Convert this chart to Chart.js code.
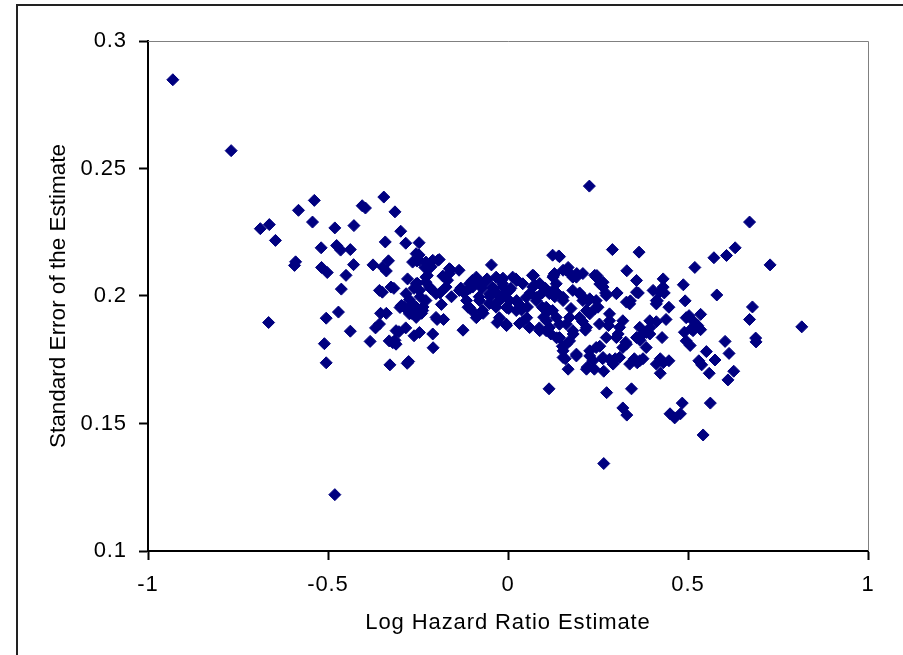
<!DOCTYPE html>
<html><head><meta charset="utf-8">
<script src="https://cdn.jsdelivr.net/npm/chart.js@4/dist/chart.umd.min.js"></script>
<style>html,body{margin:0;padding:0;background:#fff;} canvas{display:block;}</style>
</head><body>
<canvas id="c" width="903" height="655"></canvas>
<script>
const xValues = [
-0.931,-0.769,-0.688,-0.663,-0.646,-0.665,-0.593,-0.590,-0.582,-0.538,
-0.543,-0.519,-0.518,-0.502,-0.510,-0.505,-0.505,-0.481,-0.476,-0.465,
-0.463,-0.471,-0.450,-0.438,-0.429,-0.428,-0.438,-0.481,-0.405,-0.396,
-0.375,-0.368,-0.383,-0.345,-0.341,-0.332,-0.338,-0.349,-0.354,-0.338,
-0.314,-0.317,-0.328,-0.320,-0.314,-0.300,-0.296,-0.298,-0.303,-0.284,
-0.284,-0.279,-0.274,-0.276,-0.280,-0.261,-0.268,-0.261,-0.253,-0.247,
-0.247,-0.252,-0.244,-0.240,-0.236,-0.231,-0.224,-0.215,-0.208,-0.197,
-0.179,-0.191,-0.189,-0.181,-0.168,-0.160,-0.185,-0.157,-0.136,-0.125,
-0.131,-0.122,-0.111,-0.098,-0.106,-0.093,-0.085,-0.080,-0.072,-0.069,
-0.058,-0.046,-0.050,-0.040,-0.030,-0.037,-0.024,-0.014,-0.010,-0.005,
0.002,0.008,0.022,0.026,0.037,0.042,0.054,0.062,0.071,0.074,
0.079,0.087,0.095,0.099,0.104,0.111,0.114,0.119,0.127,0.130,
0.136,0.143,0.143,0.151,0.159,0.167,0.167,0.178,0.175,0.181,
0.191,0.199,0.207,0.207,0.215,0.223,0.226,0.220,0.240,0.247,
0.255,0.242,0.255,0.263,0.266,0.266,0.274,0.271,0.279,0.290,
0.298,0.303,0.306,0.319,0.330,0.330,0.327,0.343,0.340,0.351,
0.359,0.364,0.362,0.367,0.375,0.394,0.412,0.415,0.423,0.431,
0.423,0.431,0.434,0.428,0.439,0.447,0.447,0.450,0.463,0.479,
0.484,0.487,0.492,0.495,0.503,0.490,0.506,0.519,0.527,0.535,
0.530,0.538,0.535,0.542,0.551,0.559,0.562,0.575,0.572,0.580,
0.607,0.603,0.614,0.611,0.627,0.631,0.671,0.671,0.679,0.688,
0.689,0.728,0.816,
-0.099,-0.079,-0.060,-0.043,-0.018,0.024,0.068,0.088,0.124,-0.135,
-0.115,-0.107,-0.088,-0.071,-0.052,-0.032,-0.015,0.004,-0.004,-0.024,
-0.004,0.024,0.040,0.052,0.032,0.060,0.079,0.096,0.107,0.088,
0.115,0.135,0.124,
0.141,0.129,0.162,0.190,0.241,0.264,0.097,0.125,0.153,0.180,
0.208,0.227,0.250,0.273,0.301,0.329,0.357,0.403,0.412,0.106,
0.134,0.162,0.106,0.143,0.180,0.199,0.227,0.218,0.254,0.282,
0.310,0.273,0.301,0.329,0.357,0.394,0.384,0.162,0.153,0.190,
0.227,0.236,0.264,0.292,0.338,0.366,0.319,
-0.228,-0.209,-0.228,-0.274,-0.255,-0.311,-0.311,0.357,0.421,0.509,
0.366,0.384,0.310,0.412,
0.218,0.153,0.171,0.190,0.227,0.245,0.282,0.495,0.514,-0.200,
-0.172,-0.098,-0.079,-0.051,-0.033,-0.015,0.004,0.023,0.051,0.069,
0.115,0.134,0.153,0.171,0.199,0.218,0.245,0.264,0.282,0.319,
0.338,0.375,0.394,0.412,0.431,0.514,
-0.348,-0.255,-0.246,-0.265,-0.195,-0.214,-0.163,-0.357,-0.325,-0.357,
-0.330,-0.255,-0.228,-0.163,-0.283,-0.246,-0.265,-0.218,-0.228,-0.288,
-0.274,-0.255,-0.237,-0.200,-0.209,-0.246,-0.107,-0.088,-0.061,-0.033,
-0.015,0.013,0.041,0.125,0.153,0.180,0.208,0.245
];
const yValues = [
0.2848,0.257,0.2264,0.228,0.2218,0.1896,0.212,0.2134,0.2336,0.2375,
0.229,0.2189,0.2112,0.2092,0.1813,0.1913,0.1738,0.2267,0.2198,0.218,
0.2027,0.1937,0.2081,0.2182,0.2123,0.2276,0.1862,0.1221,0.2354,0.2345,
0.2122,0.1875,0.1822,0.2388,0.2212,0.2138,0.2098,0.2015,0.1932,0.1932,
0.233,0.203,0.173,0.1817,0.1826,0.1955,0.1963,0.2254,0.186,0.2207,
0.1875,0.2067,0.1985,0.1743,0.1736,0.1844,0.1932,0.203,0.2137,0.2161,
0.2209,0.205,0.1997,0.1932,0.1957,0.2112,0.208,0.2029,0.1797,0.1908,
0.1908,0.2143,0.2012,0.2078,0.2062,0.2104,0.1967,0.1997,0.2101,0.1866,
0.2031,0.2012,0.1956,0.194,0.203,0.2047,0.2063,0.1997,0.203,0.1932,
0.2067,0.2122,0.1997,0.203,0.1896,0.1965,0.1981,0.207,0.2006,0.189,
0.1951,0.203,0.2067,0.1975,0.1946,0.19,0.1957,0.2012,0.208,0.2044,
0.1981,0.1875,0.2012,0.1917,0.203,0.194,0.1636,0.1851,0.208,0.1997,
0.2012,0.2154,0.1889,0.1803,0.1754,0.1713,0.2112,0.208,0.1951,0.1851,
0.2088,0.2012,0.1997,0.19,0.1866,0.1981,0.2431,0.1721,0.1713,0.208,
0.2047,0.1951,0.1803,0.1754,0.1705,0.1343,0.1621,0.2012,0.1884,0.2182,
0.1754,0.2012,0.1851,0.1561,0.1533,0.2099,0.1819,0.1636,0.1981,0.1754,
0.1738,0.2172,0.2012,0.1826,0.1754,0.1875,0.1899,0.1981,0.1754,0.1738,
0.1697,0.2067,0.2012,0.1837,0.1908,0.1956,0.1746,0.1538,0.1522,0.1538,
0.158,0.2044,0.1981,0.1915,0.1923,0.1858,0.1806,0.2112,0.1884,0.1868,
0.1746,0.173,0.1928,0.1455,0.1782,0.1697,0.158,0.1749,0.215,0.2004,
0.2159,0.1822,0.1775,0.1671,0.1705,0.2189,0.229,0.1908,0.1957,0.1835,
0.182,0.2122,0.1879,
0.2061,0.2049,0.2061,0.2034,0.2061,0.2061,0.2081,0.2049,0.2160,0.2022,
0.1982,0.1955,0.1915,0.1943,0.1970,0.2010,0.1994,0.2022,0.1955,0.1915,
0.1884,0.1982,0.1955,0.1915,0.1892,0.1876,0.1994,0.1955,0.1903,0.1864,
0.1876,0.1836,0.1943,
0.2157,0.2088,0.2101,0.2074,0.2081,0.2054,0.2035,0.2022,0.1995,0.2022,
0.1982,0.1989,0.1956,0.2002,0.2009,0.1976,0.2015,0.2022,0.1969,0.1956,
0.1916,0.1890,0.1864,0.1837,0.1864,0.1916,0.1930,0.1877,0.1890,0.1903,
0.1877,0.1837,0.1837,0.1811,0.1837,0.1851,0.1798,0.1811,0.1759,0.1772,
0.1785,0.1746,0.1759,0.1733,0.1733,0.1746,0.1798,
0.2133,0.2140,0.2054,0.1943,0.1956,0.1864,0.1811,0.2061,0.2015,0.1871,
0.1877,0.1857,0.1759,0.1733,
0.1713,0.1785,0.1824,0.1765,0.1765,0.1798,0.1752,0.1824,0.1864,0.2009,
0.2035,0.2035,0.1982,0.2009,0.1956,0.2035,0.1982,0.1943,0.1995,0.2035,
0.2009,0.2048,0.1982,0.1916,0.2009,0.1943,0.1982,0.2035,0.1930,0.1903,
0.1969,0.1851,0.1903,0.1982,0.2035,0.1903,
0.2114,0.2166,0.2140,0.2133,0.2140,0.2114,0.2107,0.2022,0.2035,0.1890,
0.1824,0.2048,0.2074,0.2088,0.2009,0.2022,0.1969,0.2035,0.1982,0.1956,
0.1930,0.1916,0.1943,0.1916,0.1851,0.1857,0.2048,0.2074,0.2061,0.2074,
0.2048,0.2074,0.2048,0.2074,0.2101,0.2074,0.2088,0.2074
];
const xTickLabels = ['-1', '-0.5', '0', '0.5', '1'];
const yTickLabels = ['0.1', '0.15', '0.2', '0.25', '0.3'];
const xTitle = 'Log Hazard Ratio Estimate';
const yTitle = 'Standard Error of the Estimate';

const points = xValues.map((x, i) => ({x: x, y: yValues[i]}));
const FONT = 'Arial, "Liberation Sans", sans-serif';

const framePlugin = {
  id: 'frame',
  afterLayout(chart) {
    const ys = chart.scales.y;
    if (ys && !ys._titleWrapped) {
      const orig = ys.drawTitle.bind(ys);
      ys.drawTitle = function () {
        const c = this.ctx;
        const prev = c.letterSpacing;
        c.letterSpacing = '0px';
        orig();
        c.letterSpacing = prev;
      };
      ys._titleWrapped = true;
    }
  },
  beforeDraw(chart) {
    const ctx = chart.ctx;
    ctx.save();
    ctx.fillStyle = '#ffffff';
    ctx.fillRect(0, 0, chart.width, chart.height);
    ctx.restore();
    ctx.letterSpacing = '0.9px';
  },
  beforeDatasetsDraw(chart) {
    const {ctx, chartArea: a} = chart;
    ctx.save();
    ctx.strokeStyle = '#808080';
    ctx.lineWidth = 1;
    ctx.beginPath();
    ctx.moveTo(a.left, a.top + 0.5);
    ctx.lineTo(a.right + 0.5, a.top + 0.5);
    ctx.lineTo(a.right + 0.5, a.bottom);
    ctx.stroke();
    ctx.restore();
  },
  afterDraw(chart) {
    const ctx = chart.ctx;
    ctx.save();
    ctx.strokeStyle = '#222222';
    ctx.lineWidth = 2;
    ctx.beginPath();
    ctx.moveTo(17, chart.height);
    ctx.lineTo(17, 5);
    ctx.lineTo(chart.width, 5);
    ctx.stroke();
    ctx.restore();
  }
};

new Chart(document.getElementById('c'), {
  type: 'scatter',
  data: {
    datasets: [{
      data: points,
      pointStyle: 'rectRot',
      pointRadius: 6,
      borderWidth: 1,
      backgroundColor: '#000080',
      borderColor: '#000080'
    }]
  },
  options: {
    responsive: false,
    animation: false,
    events: [],
    layout: {padding: {top: 41, right: 35, left: 0, bottom: 0}},
    plugins: {legend: {display: false}, tooltip: {enabled: false}},
    scales: {
      x: {
        type: 'linear', min: -1, max: 1,
        afterFit(s) { s.height = 104; },
        border: {display: true, color: '#000', width: 2},
        grid: {drawOnChartArea: false, drawTicks: true, tickLength: 9, tickColor: '#000', tickWidth: 2, color: '#000'},
        ticks: {stepSize: 0.5, padding: 12, color: '#000', font: {family: FONT, size: 22},
          callback: (v, i) => xTickLabels[i]},
        title: {display: true, text: xTitle, color: '#000', font: {family: FONT, size: 22}, padding: {top: 0, bottom: 19}}
      },
      y: {
        type: 'linear', min: 0.1, max: 0.3,
        afterFit(s) { s.width = 148; },
        border: {display: true, color: '#000', width: 2},
        grid: {drawOnChartArea: false, drawTicks: true, tickLength: 9, tickColor: '#000', tickWidth: 2, color: '#000'},
        ticks: {stepSize: 0.05, padding: 12, color: '#000', font: {family: FONT, size: 22},
          callback: (v, i) => yTickLabels[i]},
        title: {display: true, text: yTitle, color: '#000', font: {family: FONT, size: 22.5}, padding: {top: 45, bottom: 0}}
      }
    }
  },
  plugins: [framePlugin]
});
</script>
</body></html>
